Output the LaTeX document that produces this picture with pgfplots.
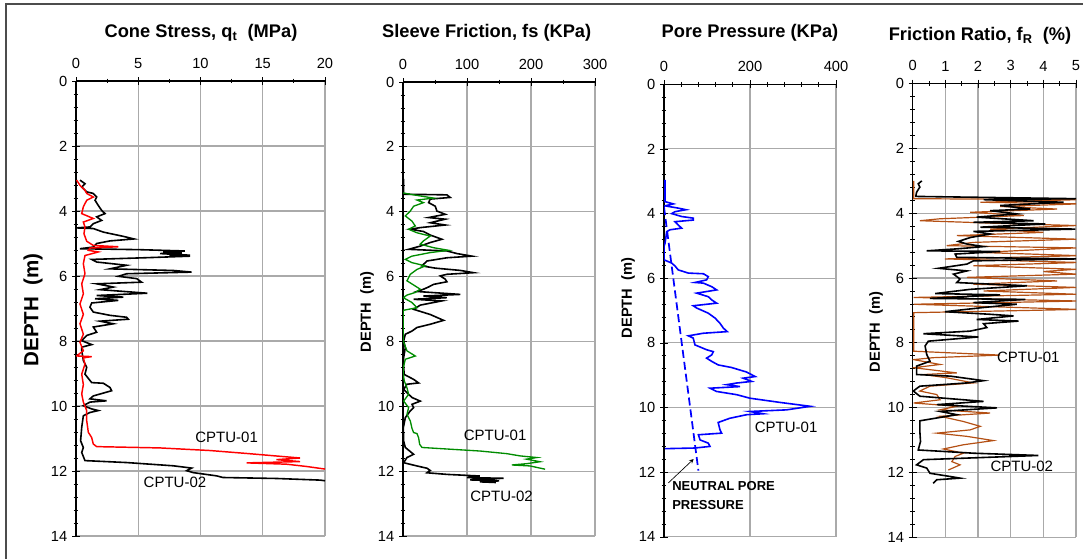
\documentclass[border=0pt]{standalone}
\usepackage{fontspec}
\setmainfont{Liberation Sans}
\usepackage{pgfplots}
\pgfplotsset{compat=1.18}
\definecolor{gridgray}{RGB}{170,170,170}
\definecolor{cbrown}{RGB}{180,80,20}
\definecolor{cgreen}{RGB}{0,140,0}
\pgfplotsset{cpt/.style={
  scale only axis,
  anchor=north west,
  y dir=reverse, ymin=0, ymax=14, ytick={0,2,...,14}, minor y tick num=4,
  axis x line*=top, axis y line*=left,
  axis line style={-, black, line width=0.8pt},
  grid=major, major grid style={gridgray, line width=0.8pt},
  tick align=center,
  major tick length=6pt, minor tick length=3.5pt,
  every tick/.append style={black, line width=0.6pt},
  tick label style={font=\fontsize{11}{13}\selectfont},
  /pgf/number format/assume math mode=true,
  xticklabel style={yshift=3pt},
}}
\begin{document}
\begin{tikzpicture}
\useasboundingbox (0,0) rectangle (812.25pt,-419.25pt);
\draw[black!70, line width=0.8pt] (4.5pt,-3pt) rectangle (830pt,-430pt);

% ---------- Panel 1: cone stress ----------
\begin{axis}[cpt, at={(57pt,-60.75pt)}, width=186.75pt, height=341.25pt,
  xmin=0, xmax=20, xtick={0,5,...,20}, minor x tick num=1]
\addplot[black, line width=1.2pt] coordinates {
(0.32,3.05)(0.72,3.16)(0.46,3.26)(0.86,3.41)(1.39,3.46)(1.66,3.57)(1.53,3.67)(1.79,3.83)(2.06,3.98)(2.33,4.08)(1.66,4.18)(2.06,4.29)(1.39,4.39)(1.12,4.49)(0.05,4.52)(1.39,4.54)(2.2,4.65)(3.8,4.78)(4.66,4.86)(2.73,4.92)(1.66,5.0)(1.39,5.11)(0.32,5.16)(5.14,5.19)(8.75,5.23)(7.0,5.27)(8.5,5.29)(6.75,5.31)(9.16,5.36)(7.5,5.38)(9.16,5.39)(5.41,5.44)(1.26,5.49)(1.66,5.57)(4.07,5.67)(2.73,5.78)(7.82,5.83)(9.29,5.88)(4.07,5.93)(3.4,6.01)(4.87,6.08)(5.27,6.19)(1.66,6.24)(3.0,6.34)(1.93,6.42)(5.73,6.53)(1.66,6.6)(3.8,6.65)(1.53,6.7)(3.4,6.75)(1.26,6.83)(1.12,6.96)(1.39,7.11)(2.73,7.21)(4.07,7.27)(4.2,7.33)(1.93,7.39)(3.0,7.47)(1.39,7.57)(1.66,7.73)(0.86,7.83)(0.46,7.99)(1.26,8.11)(0.46,8.19)(0.46,8.29)(0.59,8.6)(0.86,8.81)(0.72,9.02)(1.26,9.28)(2.2,9.3)(2.73,9.43)(2.86,9.53)(1.39,9.69)(1.12,9.78)(2.46,9.84)(1.12,9.88)(0.59,9.99)(1.26,10.09)(1.79,10.14)(1.12,10.2)(0.59,10.3)(0.46,10.65)(0.37,11.07)(0.59,11.28)(0.46,11.43)(0.72,11.68)(4.07,11.74)(7.82,11.84)(9.29,11.91)(8.89,11.99)(9.42,12.05)(11.3,12.15)(11.8,12.2)(16.1,12.23)(19.6,12.28)(20,12.3)};
\addplot[red, line width=1.1pt] coordinates {
(0.05,3.05)(0.32,3.21)(0.72,3.36)(0.86,3.46)(1.39,3.57)(0.86,3.67)(0.59,3.87)(0.46,4.08)(1.39,4.23)(0.59,4.34)(0.72,4.49)(0.64,4.7)(0.86,4.93)(1.39,5.06)(3.4,5.1)(1.12,5.14)(0.99,5.21)(1.79,5.26)(0.72,5.37)(0.59,5.62)(0.72,5.93)(0.46,6.24)(0.59,6.55)(0.32,6.86)(0.59,7.18)(0.32,7.47)(0.59,7.79)(0.32,8.04)(0.59,8.3)(0.05,8.46)(1.26,8.48)(0.59,8.52)(0.72,8.71)(0.46,9.02)(0.59,9.34)(0.46,9.63)(0.59,9.88)(0.86,10.14)(0.86,10.45)(0.99,10.81)(1.26,10.97)(1.39,11.17)(1.66,11.25)(6.75,11.29)(10.76,11.37)(13.7,11.46)(15.85,11.53)(18.0,11.6)(16.1,11.65)(18.0,11.71)(13.7,11.75)(16.9,11.79)(18.5,11.86)(20,11.94)};
\node[font=\fontsize{11.25}{13}\selectfont] at (axis cs:12.1,10.97) {CPTU-01};
\node[font=\fontsize{11.25}{13}\selectfont] at (axis cs:7.95,12.36) {CPTU-02};
\end{axis}

% ---------- Panel 2: sleeve friction ----------
\begin{axis}[cpt, at={(302.25pt,-61.5pt)}, width=144pt, height=340.5pt,
  xmin=0, xmax=300, xtick={0,100,200,300}, minor x tick num=1]
\addplot[black, line width=1.2pt] coordinates {
(1,2.99)(1,3.46)(68.6,3.48)(73.8,3.56)(42.6,3.61)(40,3.72)(50.4,3.83)(53,3.98)(66,4.08)(40,4.18)(66,4.23)(42.6,4.34)(66,4.41)(27,4.49)(11.4,4.54)(32,4.61)(42.6,4.72)(60.8,4.85)(42.6,4.95)(27,5.06)(8.8,5.16)(68.6,5.21)(84.2,5.29)(107.6,5.37)(68.6,5.42)(37.4,5.52)(29.6,5.67)(50.4,5.74)(89.4,5.81)(110.2,5.88)(68.6,5.93)(58.2,5.98)(66,6.08)(68.6,6.16)(47.8,6.24)(40,6.32)(32,6.39)(21.8,6.46)(89.4,6.55)(32,6.6)(68.6,6.65)(16.6,6.7)(60.8,6.75)(27,6.88)(16.6,7.01)(42.6,7.17)(63.4,7.35)(42.6,7.47)(21.8,7.57)(14,7.68)(3.6,7.78)(1,7.99)(3.6,8.19)(1,8.5)(0.5,8.71)(2,9.02)(16.6,9.17)(24.4,9.28)(6.2,9.32)(1,9.48)(14,9.73)(27,9.84)(14,9.94)(16.6,10.04)(11.4,10.14)(3.6,10.35)(0.5,10.66)(1,11.07)(3.6,11.27)(16.6,11.48)(6.2,11.58)(1,11.74)(21.8,11.84)(37.4,11.91)(42.6,11.98)(37.4,12.05)(68.6,12.1)(120,12.15)(100,12.2)(157,12.22)(105,12.27)(150,12.3)(120,12.33)(145,12.35)};
\addplot[cgreen, line width=1pt] coordinates {
(0,3.42)(16.6,3.48)(47.8,3.58)(21.8,3.64)(32,3.72)(16.6,3.83)(11.4,3.98)(3.6,4.13)(14,4.29)(19.2,4.44)(8.8,4.54)(21.8,4.65)(42.6,4.75)(32,4.9)(27,5.0)(47.8,5.11)(71.2,5.19)(42.6,5.26)(14,5.37)(3.6,5.47)(14,5.57)(34.8,5.67)(21.8,5.78)(11.4,5.93)(6.2,6.13)(16.6,6.26)(27,6.39)(19.2,6.49)(6.2,6.57)(0.5,6.65)(14,6.8)(21.8,6.96)(0.5,7.04)(0.5,7.99)(6.2,8.29)(19.2,8.45)(3.6,8.55)(0.5,8.81)(0.5,9.02)(2,9.22)(6.2,9.43)(8.8,9.63)(1,9.84)(8.8,10.04)(6.2,10.25)(11.4,10.45)(14,10.68)(16.6,10.81)(21.8,10.84)(24.4,10.97)(26,11.17)(29.6,11.27)(120.6,11.38)(162,11.46)(183,11.53)(209,11.58)(193,11.63)(214,11.71)(193,11.77)(170,11.81)(198.6,11.84)(222,11.94)};
\node[font=\fontsize{11.25}{13}\selectfont] at (axis cs:144,10.9) {CPTU-01};
\node[font=\fontsize{11.25}{13}\selectfont] at (axis cs:154,12.77) {CPTU-02};
\end{axis}

% ---------- Panel 3: pore pressure ----------
\begin{axis}[cpt, at={(498pt,-63.2pt)}, width=129pt, height=339.5pt,
  xmin=0, xmax=400, xtick={0,200,400}, minor x tick num=4]
\addplot[blue, line width=1.2pt] coordinates {
(2.3,2.96)(2.3,3.63)(21.7,3.7)(2.3,3.76)(33,3.83)(51,3.88)(25.6,3.94)(18,4.0)(41,4.09)(68,4.14)(68,4.2)(25.6,4.25)(33,4.35)(41,4.45)(14,4.5)(6.2,4.56)(4.7,4.71)(2.3,4.92)(0.3,5.0)(0.3,5.43)(17.8,5.53)(25.6,5.62)(33,5.74)(56.6,5.84)(91.5,5.86)(103,5.95)(99,6.05)(72,6.13)(91.5,6.15)(110.9,6.26)(122.5,6.36)(76,6.46)(103,6.57)(111,6.67)(122.5,6.77)(68,6.85)(76,6.92)(103,7.08)(118.6,7.23)(130,7.39)(138,7.54)(147,7.65)(91.5,7.7)(56.6,7.78)(68,7.85)(72,8.06)(99,8.21)(114.7,8.27)(111,8.37)(99,8.47)(111,8.57)(126,8.68)(157,8.76)(192,8.9)(212,9.04)(184,9.09)(204,9.19)(169,9.24)(146,9.29)(177,9.35)(107,9.4)(122,9.5)(169,9.6)(200,9.71)(270,9.84)(340,9.96)(285,10.07)(200,10.12)(231,10.19)(192,10.22)(153,10.33)(126,10.46)(130,10.68)(134,10.79)(80,10.84)(84,11.0)(103,11.1)(107,11.2)(72,11.25)(2.3,11.27)};
\addplot[blue, line width=1.3pt, dash pattern=on 6pt off 3pt] coordinates {(0,3.8)(80,11.95)};
\node[font=\fontsize{11.25}{13}\selectfont] at (axis cs:284,10.62) {CPTU-01};
\draw[black, line width=0.5pt, -stealth] (axis cs:10,12.33) -- (axis cs:69,11.59);
\node[anchor=west, font=\fontsize{9.75}{11}\bfseries, inner sep=0pt] at (axis cs:18.6,12.42) {NEUTRAL PORE};
\node[anchor=west, font=\fontsize{9.75}{11}\bfseries, inner sep=0pt] at (axis cs:18.6,13.0) {PRESSURE};
\end{axis}

% ---------- Panel 4: friction ratio ----------
\begin{axis}[cpt, at={(684.5pt,-62.8pt)}, width=122.5pt, height=340pt,
  xmin=0, xmax=5, xtick={0,1,...,5}, minor x tick num=1]
\addplot[cbrown, line width=0.9pt] coordinates {
(0.03,3.0)(0.03,3.55)(5.1,3.58)(2.07,3.66)(5.1,3.71)(2.68,3.79)(4.42,3.87)(1.76,3.97)(3.4,4.07)(0.84,4.17)(0.22,4.23)(2.58,4.31)(5.0,4.38)(2.37,4.49)(4.0,4.59)(1.35,4.69)(5.0,4.8)(1.86,4.9)(1.04,5.0)(5.0,5.07)(2.07,5.21)(5.1,5.31)(0.99,5.41)(5.1,5.52)(1.86,5.62)(5.0,5.73)(4.0,5.8)(5.0,5.88)(1.66,5.98)(4.42,6.09)(1.86,6.19)(5.0,6.29)(2.17,6.4)(5.0,6.5)(0.03,6.6)(5.1,6.71)(0.03,6.81)(5.1,6.97)(0.03,7.07)(0.03,8.26)(2.68,8.38)(0.63,8.46)(0.03,8.52)(0.84,8.67)(0.03,8.77)(1.35,8.93)(0.33,8.98)(1.04,9.08)(1.86,9.24)(0.53,9.34)(0.22,9.49)(0.74,9.6)(0.84,9.76)(0.03,9.86)(1.35,9.96)(0.84,10.07)(2.37,10.17)(0.84,10.27)(1.55,10.43)(2.07,10.58)(1.76,10.69)(0.74,10.79)(1.66,10.89)(2.47,11.02)(1.55,11.15)(0.94,11.28)(1.55,11.41)(1.3,11.51)(1.2,11.67)(1.45,11.77)(1.09,11.93)};
\addplot[black, line width=1.2pt] coordinates {
(0.28,3.0)(0.17,3.09)(0.22,3.19)(0.12,3.35)(0.1,3.45)(0.1,3.48)(1.5,3.5)(5.0,3.55)(2.17,3.58)(4.62,3.66)(2.68,3.76)(3.6,3.87)(2.37,3.92)(3.19,4.02)(1.96,4.12)(3.7,4.23)(1.86,4.28)(4.06,4.33)(2.07,4.43)(4.98,4.49)(1.86,4.56)(2.37,4.64)(1.76,4.75)(1.4,4.87)(1.66,4.95)(2.17,5.03)(1.35,5.1)(0.43,5.16)(2.68,5.18)(1.3,5.26)(1.35,5.36)(5.0,5.41)(1.86,5.47)(1.66,5.57)(0.79,5.7)(1.66,5.78)(1.25,5.88)(1.45,6.03)(1.35,6.14)(3.5,6.24)(1.76,6.35)(0.69,6.48)(2.68,6.52)(0.53,6.63)(3.45,6.66)(1.86,6.76)(3.19,6.81)(2.17,6.91)(0.99,7.04)(2.37,7.12)(3.09,7.17)(1.96,7.28)(3.24,7.33)(2.17,7.41)(2.27,7.53)(1.76,7.64)(0.33,7.72)(2.01,7.82)(0.48,7.95)(0.38,8.1)(0.43,8.36)(0.53,8.57)(0.12,8.72)(0.12,8.98)(1.15,9.03)(2.17,9.17)(1.66,9.24)(0.22,9.34)(0.02,9.49)(0.22,9.65)(2.17,9.81)(0.74,9.91)(2.58,10.01)(0.84,10.12)(1.35,10.22)(0.22,10.41)(0.22,10.74)(0.24,11.05)(0.17,11.31)(1.86,11.41)(3.85,11.48)(0.33,11.61)(0.12,11.77)(0.43,11.87)(0.53,12.03)(1.15,12.13)(1.45,12.18)(0.74,12.23)(0.63,12.34)};
\node[font=\fontsize{11.25}{13}\selectfont] at (axis cs:3.54,8.44) {CPTU-01};
\node[font=\fontsize{11.25}{13}\selectfont] at (axis cs:3.34,11.82) {CPTU-02};
\end{axis}

% ---------- titles and depth labels ----------
\node[font=\fontsize{13.7}{16}\bfseries] at (150.75pt,-24.75pt) {Cone Stress, q\textsubscript{t}\ \ (MPa)};
\node[font=\fontsize{13.7}{16}\bfseries] at (365pt,-24.75pt) {Sleeve Friction, fs (KPa)};
\node[font=\fontsize{13.7}{16}\bfseries] at (562.5pt,-24.75pt) {Pore Pressure (KPa)};
\node[font=\fontsize{13.7}{16}\bfseries] at (735pt,-27pt) {Friction Ratio, f\textsubscript{R}\ \ (\%)};
\node[rotate=90, font=\fontsize{15.4}{18}\bfseries] at (24.75pt,-232.5pt) {DEPTH\ \ (m)};
\node[rotate=90, font=\fontsize{11}{13}\bfseries] at (275.25pt,-234pt) {DEPTH\ \ (m)};
\node[rotate=90, font=\fontsize{11}{13}\bfseries] at (471pt,-223.5pt) {DEPTH\ \ (m)};
\node[rotate=90, font=\fontsize{11}{13}\bfseries] at (657pt,-249pt) {DEPTH\ \ (m)};
\end{tikzpicture}
\end{document}
